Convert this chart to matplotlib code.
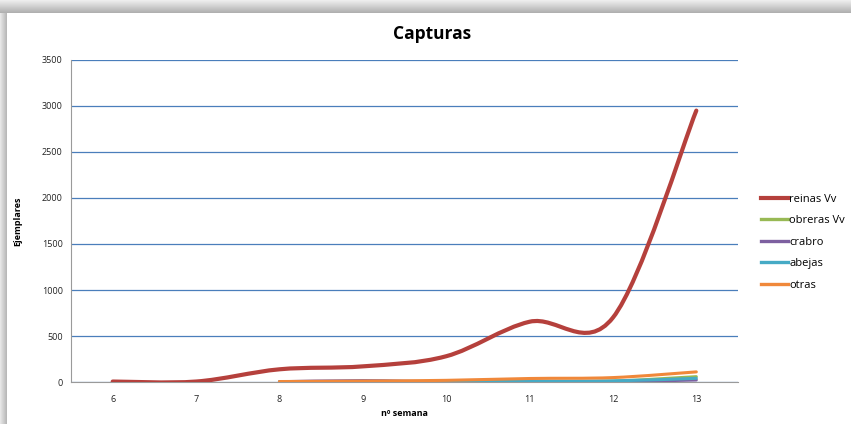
import matplotlib
matplotlib.use('Agg')
import matplotlib.pyplot as plt
from matplotlib.path import Path
from matplotlib.patches import PathPatch, Rectangle
from matplotlib.lines import Line2D

# weeks on the x axis
weeks_all = [6, 7, 8, 9, 10, 11, 12, 13]
weeks_late = [8, 9, 10, 11, 12, 13]

# captures per week
reinas = [5, 5, 138, 170, 280, 655, 700, 2950]
obreras = [2, 5, 3, 4, 10, 58]
crabro = [3, 15, 2, 3, 4, 22]
abejas = [1, 2, 8, 10, 12, 40]
otras = [5, 10, 18, 38, 48, 110]

series = [
    ('reinas Vv', weeks_all, reinas, '#B5403C', 3.0),
    ('obreras Vv', weeks_late, obreras, '#98B954', 2.2),
    ('crabro', weeks_late, crabro, '#7D60A0', 2.2),
    ('abejas', weeks_late, abejas, '#46AAC5', 2.2),
    ('otras', weeks_late, otras, '#F0883A', 2.2),
]

plt.rcParams['font.family'] = ['Open Sans', 'DejaVu Sans']


def smooth_path(xs, ys):
    # bezier segments through the data points (like Excel's smoothed line)
    pts = list(zip(xs, ys))
    verts = [pts[0]]
    codes = [Path.MOVETO]
    n = len(pts)
    for i in range(n - 1):
        p0 = pts[i - 1] if i > 0 else pts[i]
        p1 = pts[i]
        p2 = pts[i + 1]
        p3 = pts[i + 2] if i + 2 < n else pts[i + 1]
        c1 = (p1[0] + (p2[0] - p0[0]) / 6, p1[1] + (p2[1] - p0[1]) / 6)
        c2 = (p2[0] - (p3[0] - p1[0]) / 6, p2[1] - (p3[1] - p1[1]) / 6)
        verts += [c1, c2, p2]
        codes += [Path.CURVE4] * 3
    return Path(verts, codes)


fig = plt.figure(figsize=(8.51, 4.24), dpi=100)

# shadow frame on top and left edges
W, H = 851, 424
for k in range(13):
    g = 0.93 - 0.02 * k
    fig.add_artist(Rectangle((0, 1 - (k + 1) / H), 1, 1 / H,
                             transform=fig.transFigure, color=str(g), lw=0))
for k in range(7):
    g = 0.90 - 0.03 * k
    fig.add_artist(Rectangle((k / W, 0), 1 / W, 1 - 13 / H,
                             transform=fig.transFigure, color=str(g), lw=0))

ax = fig.add_axes([71 / W, 1 - 382 / H, (738 - 71) / W, (382 - 60) / H])

for name, xs, ys, color, lw in series:
    ax.add_patch(PathPatch(smooth_path(xs, ys), fill=False, edgecolor=color,
                           lw=lw, capstyle='round', joinstyle='round', zorder=3))

ax.set_xlim(5.5, 13.5)
ax.set_ylim(0, 3500)
ax.set_yticks(range(0, 3501, 500))
ax.set_xticks(weeks_all)
ax.yaxis.grid(True, color='#4A7EBB', lw=0.9)
ax.set_axisbelow(True)
ax.tick_params(axis='both', labelsize=6.5, length=0, colors='#222222', pad=6)
ax.tick_params(axis='x', pad=9)
for s in ['top', 'right']:
    ax.spines[s].set_visible(False)
ax.spines['left'].set_color('#9a9a9a')
ax.spines['bottom'].set_color('#9a9a9a')

ax.set_ylabel('Ejemplares', fontsize=6.5, fontweight='bold', labelpad=14)
ax.set_xlabel('nº semana', fontsize=6.5, fontweight='bold', labelpad=4)

fig.text(432 / W, 1 - 34 / H, 'Capturas', fontsize=12.5, fontweight='bold',
         ha='center', va='center')

handles = [Line2D([], [], color=c, lw=lw if lw > 2.5 else 2.4) for _, _, _, c, lw in series]
fig.legend(handles, [s[0] for s in series], loc='upper left',
           bbox_to_anchor=(755 / W, 1 - 188 / H), frameon=False, fontsize=8,
           handlelength=2.5, handletextpad=0.1, labelspacing=0.95, borderpad=0)

fig.savefig('out.png', dpi=100)
